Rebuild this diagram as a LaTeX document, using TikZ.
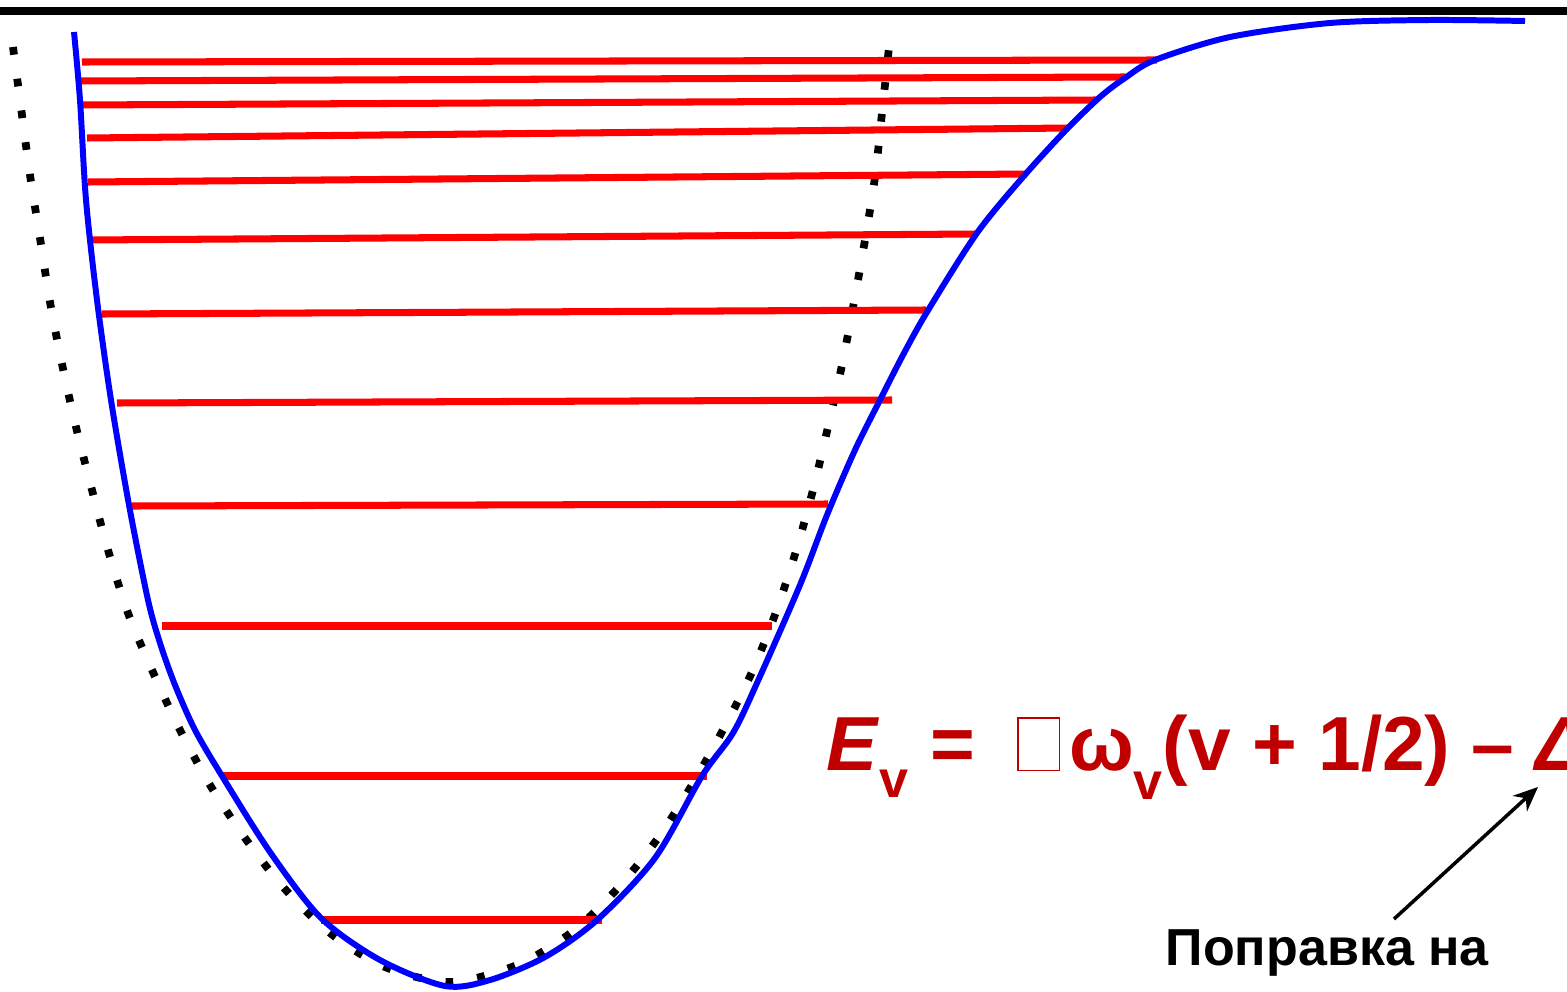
\documentclass[tikz,border=0pt]{standalone}
\usepackage{fontspec}
\setmainfont{Liberation Sans}
\usepackage{xcolor}
\usetikzlibrary{arrows.meta}
\definecolor{formred}{RGB}{192,0,0}
\newcommand{\tofubox}{{\fboxsep=0pt\fboxrule=0.4pt\fbox{\rule{0pt}{14.6pt}\hspace{11.5pt}}}}
\newcommand{\subv}[1]{\raisebox{#1}{\fontsize{14.8}{17}\selectfont v}}

\begin{document}
\begin{tikzpicture}[x=0.01cm, y=-0.01cm,
                level/.style={red, line width=2pt},
                morse/.style={blue, line width=1.7pt},
                harm/.style={black, line width=2.2pt, dash pattern=on 2.2pt off 6.9pt},
                formula/.style={text=formred, inner sep=0pt, font=\fontsize{21.8}{25}\selectfont\bfseries},
                note/.style={inner sep=0pt, font=\fontsize{14.8}{17}\selectfont\bfseries},
                arrow/.style={-{Stealth[length=7pt, width=6pt]}, line width=1pt}
            ]
        \useasboundingbox (0,0) rectangle (1567,991);

        % dissociation limit
        \draw[line width=2.3pt] (0,11) -- (1567,11);

        % harmonic approximation
        \draw[harm] plot[smooth] coordinates {(13,47) (20,100) (30,175) (40,238) (50,302)
            (62,364) (76,427) (92,490) (108,550) (128,613) (152,670) (179,728) (210,785)
            (245,838) (284,888) (330,933) (385,967) (450,982) (517,965) (572,932) (618,888)
            (658,838) (692,785) (724,728) (752,672) (776,612) (796,551) (813,490) (828,427)
            (842,365) (854,302) (865,240) (875,177) (882,113) (889,47)};

        % vibrational levels
        \draw[level] (82,62)   -- (1157,60);
        \draw[level] (76,81)   -- (1125,77);
        \draw[level] (80,105)  -- (1097,100);
        \draw[level] (87,138)  -- (1069,128);
        \draw[level] (88,182)  -- (1027,174);
        \draw[level] (88,240)  -- (977,234);
        \draw[level] (102,314) -- (926,310);
        \draw[level] (117,403) -- (892,400);
        \draw[level] (132,506) -- (828,504);
        \draw[level] (162,626) -- (772,626);
        \draw[level] (222,776) -- (707,776);
        \draw[level] (321,920) -- (602,920);

        % anharmonic potential
        \draw[morse] plot[smooth] coordinates {(74,32) (80,100) (86,200) (97,300) (111,400)
            (129,505) (148,600) (160,643) (175,685) (195,730) (222,776) (270,852) (321,918)
            (380,960) (445,986) (490,980) (545,957) (597,920) (655,858) (702,776) (733,733)
            (757,683) (800,585) (827,515) (855,450) (880,400) (903,355) (927,312) (977,233)
            (1023,177) (1065,131) (1100,97) (1125,78) (1155,60) (1230,37) (1330,23)
            (1430,20) (1525,21)};

        \node[formula, anchor=base west] (energy) at (826,770)
            {\textit{E}\subv{-7.8pt}\ = \kern6pt\tofubox\kern2.5pt ω\subv{-8.5pt}(v + 1/2) – \textit{Δ}};
        \node[note, anchor=base west] (fix) at (1165,965) {Поправка на};

        \coordinate (tail) at (1394,919);
        \coordinate (tip)  at (1538,787);
        \draw[arrow] (tail) -- (tip);
\end{tikzpicture}
\end{document}
